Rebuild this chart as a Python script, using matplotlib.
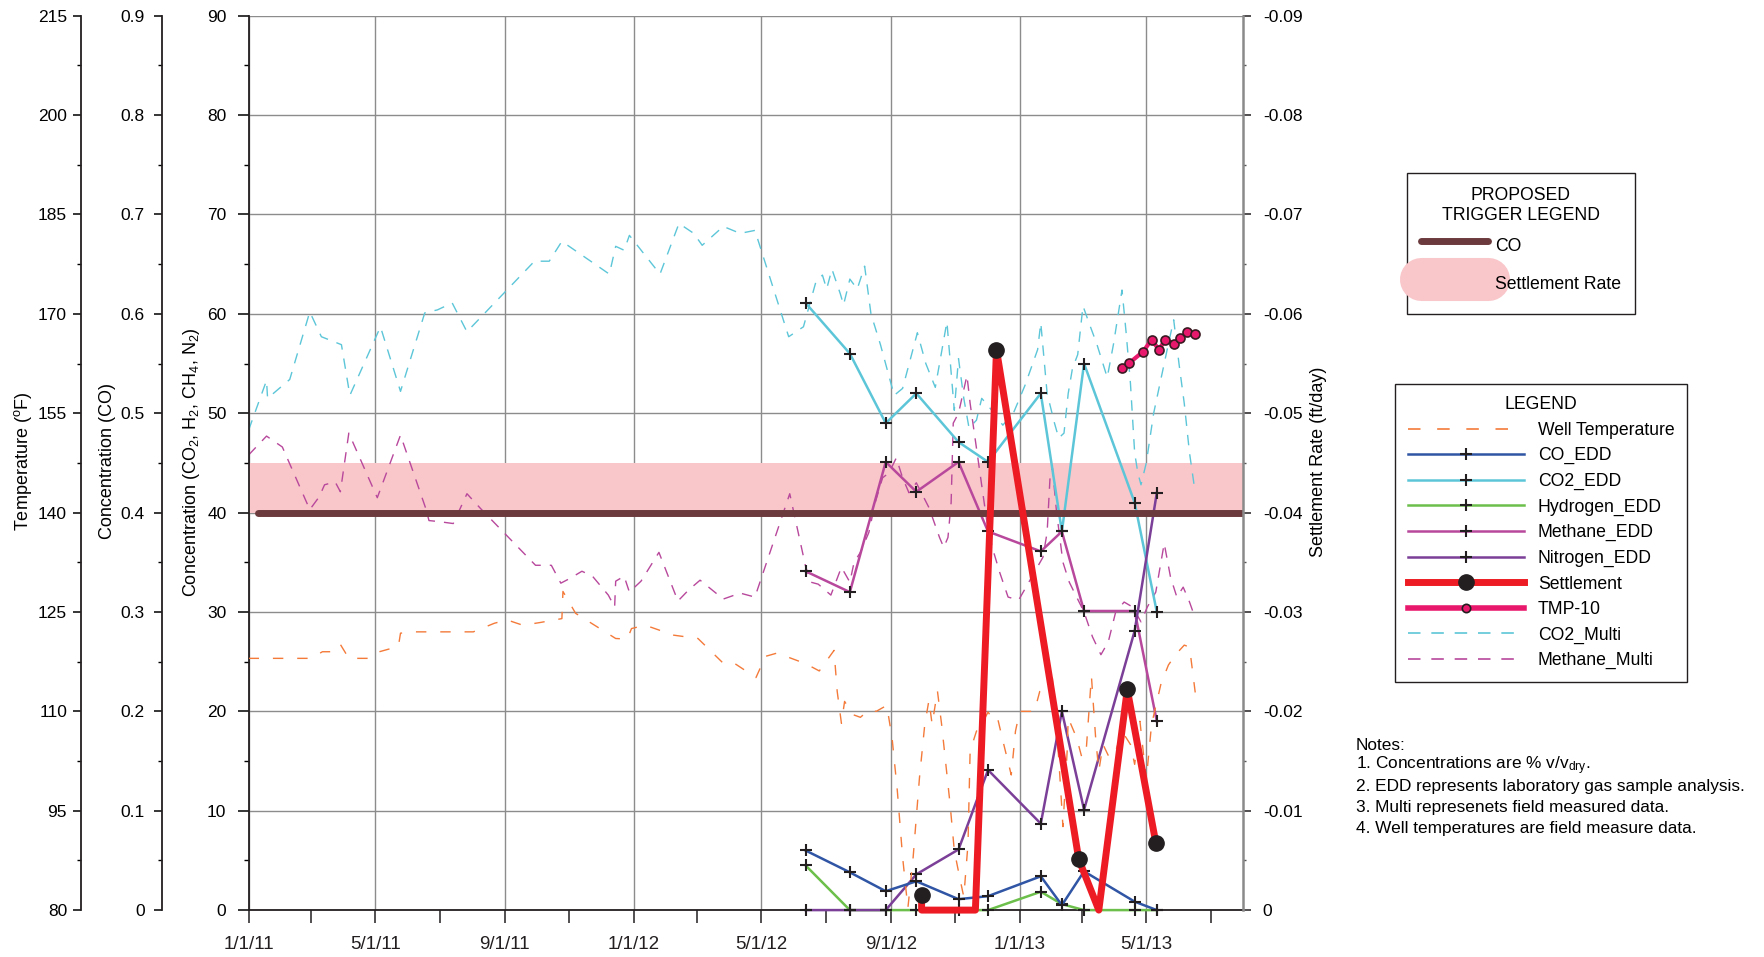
import numpy as np
import pandas as pd
import matplotlib
matplotlib.use('Agg')
import matplotlib.pyplot as plt
import matplotlib.dates as mdates
import matplotlib.transforms as mtransforms
from matplotlib.lines import Line2D
from matplotlib.patches import Rectangle
from matplotlib.ticker import MultipleLocator, FixedLocator, FuncFormatter
from matplotlib import font_manager

names = {f.name for f in font_manager.fontManager.ttflist}
narrow = 'Liberation Sans Narrow' if 'Liberation Sans Narrow' in names else 'Liberation Sans'
plt.rcParams['font.family'] = ['Liberation Sans', 'DejaVu Sans']
plt.rcParams['mathtext.fontset'] = 'custom'
plt.rcParams['mathtext.rm'] = 'Liberation Sans'
plt.rcParams['mathtext.it'] = 'Liberation Sans:italic'

# ---- lab samples (EDD) ----
edd_dates = ['2012-06-12', '2012-07-24', '2012-08-27', '2012-09-25', '2012-11-04', '2012-12-02',
             '2013-01-21', '2013-02-10', '2013-03-03', '2013-04-20', '2013-05-11']
co_edd = [0.060, 0.038, 0.019, 0.029, 0.011, 0.014, 0.034, 0.005, 0.039, 0.0085, 0.0]
co2_edd = [61.1, 56.0, 49.0, 52.0, 47.1, 45.1, 52.0, 38.1, 55.0, 41.0, 30.0]
hydrogen_edd = [4.5, 0, 0, 0, 0, 0, 1.85, 0.6, 0, 0, 0]
methane_edd = [34.1, 32.0, 45.1, 42.1, 45.1, 38.1, 36.1, 38.1, 30.1, 30.1, 19.0]
nitrogen_edd = [0, 0, 0, 3.6, 6.1, 14.1, 8.7, 20.0, 10.1, 28.1, 42.0]

# ---- settlement rate (ft/day) ----
settle_dates = ['2012-09-30', '2012-09-30', '2012-11-20', '2012-12-10', '2013-02-26',
                '2013-03-17', '2013-04-13', '2013-05-10']
settle_rate = [-0.0015, 0.0, 0.0, -0.0564, -0.0051, 0.0, -0.0222, -0.0068]
settle_marked = [0, 3, 4, 6, 7]

# ---- TMP-10 (deg F) ----
tmp_dates = ['2013-04-08', '2013-04-15', '2013-04-28', '2013-05-06', '2013-05-13',
             '2013-05-19', '2013-05-27', '2013-06-02', '2013-06-09', '2013-06-16']
tmp10 = [161.8, 162.6, 164.3, 166.1, 164.6, 166.1, 165.5, 166.3, 167.2, 167.0]

# ---- field multi-gas meter ----
co2_multi_dates = ['2011-01-01', '2011-01-18', '2011-01-19', '2011-02-09', '2011-02-28', '2011-03-11',
                   '2011-03-30', '2011-04-07', '2011-05-06', '2011-05-25', '2011-06-17', '2011-06-29',
                   '2011-07-13', '2011-07-27', '2011-09-29', '2011-10-13', '2011-10-25', '2011-12-09',
                   '2011-12-15', '2011-12-23', '2011-12-28', '2012-01-26', '2012-02-13', '2012-02-27',
                   '2012-03-06', '2012-03-26', '2012-04-11', '2012-04-25', '2012-05-27', '2012-06-10',
                   '2012-06-22', '2012-06-28', '2012-07-02', '2012-07-07', '2012-07-15', '2012-07-18',
                   '2012-07-24', '2012-07-31', '2012-08-07', '2012-08-13', '2012-08-22', '2012-09-04',
                   '2012-09-12', '2012-09-26', '2012-10-04', '2012-10-13', '2012-10-24', '2012-10-31',
                   '2012-11-04', '2012-11-09', '2012-11-14', '2012-11-21', '2012-11-26', '2012-12-04',
                   '2012-12-16', '2012-12-26', '2013-01-06', '2013-01-18', '2013-01-21', '2013-01-27',
                   '2013-02-03', '2013-02-07', '2013-02-12', '2013-02-16', '2013-02-20', '2013-02-25',
                   '2013-03-02', '2013-03-08', '2013-03-15', '2013-03-25', '2013-03-31', '2013-04-08',
                   '2013-04-12', '2013-04-16', '2013-04-20', '2013-04-23', '2013-04-26', '2013-05-01',
                   '2013-05-08', '2013-05-16', '2013-05-22', '2013-05-27', '2013-06-01', '2013-06-06',
                   '2013-06-11', '2013-06-16']
co2_multi = [48.3, 53.3, 51.5, 53.4, 60.2, 57.7, 56.9, 51.8, 58.7, 52.2, 60.1, 60.4,
             61.1, 58.2, 65.3, 65.3, 67.3, 64.0, 66.8, 66.4, 67.9, 64.0, 69.1, 68.1,
             66.9, 68.8, 68.1, 68.4, 57.7, 58.7, 63.3, 63.9, 62.5, 64.5, 62.0, 60.9,
             63.5, 62.5, 64.8, 60.0, 56.9, 51.8, 52.5, 58.1, 55.0, 52.6, 59.2, 50.3,
             55.5, 51.5, 48.5, 49.3, 51.5, 50.5, 48.8, 50.0, 52.8, 56.4, 59.1, 52.0,
             49.0, 47.5, 48.0, 52.0, 54.5, 55.9, 60.8, 59.0, 57.0, 53.6, 57.0, 62.4,
             58.0, 53.0, 46.0, 44.0, 42.8, 45.0, 50.0, 54.0, 57.0, 59.4, 55.0, 51.0,
             46.0, 42.3]

methane_multi_dates = ['2011-01-01', '2011-01-18', '2011-02-02', '2011-02-28', '2011-03-09', '2011-03-14',
                       '2011-03-24', '2011-03-29', '2011-04-06', '2011-05-03', '2011-05-25', '2011-06-18',
                       '2011-06-21', '2011-06-30', '2011-07-14', '2011-07-27', '2011-08-09', '2011-09-30',
                       '2011-10-15', '2011-10-24', '2011-11-02', '2011-11-13', '2011-11-23', '2011-12-08',
                       '2011-12-14', '2011-12-15', '2011-12-23', '2011-12-28', '2012-01-08', '2012-01-25',
                       '2012-02-12', '2012-02-22', '2012-03-04', '2012-03-26', '2012-04-11', '2012-04-25',
                       '2012-05-28', '2012-06-12', '2012-06-17', '2012-06-24', '2012-07-06', '2012-07-16',
                       '2012-07-24', '2012-07-28', '2012-08-03', '2012-08-11', '2012-08-17', '2012-08-24',
                       '2012-08-30', '2012-09-06', '2012-09-12', '2012-09-18', '2012-09-25', '2012-10-07',
                       '2012-10-17', '2012-10-21', '2012-10-25', '2012-10-28', '2012-10-30', '2012-11-04',
                       '2012-11-12', '2012-11-15', '2012-11-19', '2012-11-23', '2012-11-27', '2012-12-01',
                       '2012-12-06', '2012-12-13', '2012-12-21', '2012-12-31', '2013-01-07', '2013-01-15',
                       '2013-01-23', '2013-01-27', '2013-01-30', '2013-02-01', '2013-02-05', '2013-02-11',
                       '2013-02-17', '2013-02-24', '2013-03-03', '2013-03-11', '2013-03-19', '2013-03-26',
                       '2013-04-02', '2013-04-10', '2013-04-18', '2013-04-26', '2013-05-02', '2013-05-10',
                       '2013-05-18', '2013-05-24', '2013-05-30', '2013-06-05', '2013-06-11', '2013-06-16']
methane_multi = [45.8, 47.7, 46.6, 40.3, 41.6, 42.8, 43.1, 42.1, 48.0, 41.5, 47.8, 40.4,
                 39.2, 39.1, 38.9, 41.9, 40.4, 34.7, 34.7, 32.9, 33.4, 34.1, 33.6, 31.7,
                 30.5, 33.1, 33.6, 32.0, 33.1, 36.0, 31.1, 32.2, 33.2, 31.3, 31.9, 31.5,
                 41.9, 34.6, 33.0, 32.8, 31.7, 34.5, 33.0, 35.0, 36.0, 38.0, 41.0, 43.5,
                 44.0, 45.5, 43.5, 42.0, 43.0, 40.5, 37.5, 36.5, 37.5, 41.0, 49.0, 50.0,
                 53.8, 51.0, 48.0, 45.0, 42.0, 39.0, 36.5, 34.0, 31.5, 31.2, 32.5, 34.0,
                 35.5, 38.0, 44.0, 44.5, 40.0, 35.0, 33.0, 31.5, 30.0, 27.5, 25.7, 27.0,
                 30.0, 31.0, 30.5, 29.0, 30.5, 32.0, 36.9, 33.5, 31.5, 32.5, 31.0, 29.5]

# ---- well temperature (deg F) ----
well_dates = ['2011-01-01', '2011-03-01', '2011-03-12', '2011-03-23', '2011-03-29', '2011-04-06',
              '2011-04-26', '2011-05-05', '2011-05-23', '2011-05-25', '2011-06-05', '2011-08-02',
              '2011-08-22', '2011-09-03', '2011-09-18', '2011-10-04', '2011-10-25', '2011-10-26',
              '2011-11-07', '2011-12-15', '2011-12-26', '2011-12-30', '2012-01-12', '2012-02-08',
              '2012-03-02', '2012-03-27', '2012-04-07', '2012-04-26', '2012-05-05', '2012-05-16',
              '2012-06-12', '2012-06-25', '2012-07-09', '2012-07-12', '2012-07-16', '2012-07-19',
              '2012-07-27', '2012-08-03', '2012-08-11', '2012-08-18', '2012-08-28', '2012-09-02',
              '2012-09-07', '2012-09-12', '2012-09-17', '2012-09-22', '2012-09-28', '2012-10-03',
              '2012-10-07', '2012-10-10', '2012-10-15', '2012-10-19', '2012-10-23', '2012-10-27',
              '2012-10-31', '2012-11-05', '2012-11-09', '2012-11-13', '2012-11-15', '2012-11-21',
              '2012-11-26', '2012-12-02', '2012-12-07', '2012-12-11', '2012-12-16', '2012-12-24',
              '2012-12-28', '2013-01-01', '2013-01-15', '2013-01-20', '2013-02-01', '2013-02-03',
              '2013-02-07', '2013-02-11', '2013-02-15', '2013-02-16', '2013-02-24', '2013-03-01',
              '2013-03-05', '2013-03-10', '2013-03-14', '2013-03-17', '2013-03-21', '2013-03-27',
              '2013-04-02', '2013-04-08', '2013-04-16', '2013-04-20', '2013-04-25', '2013-05-01',
              '2013-05-06', '2013-05-15', '2013-05-22', '2013-05-29', '2013-06-06', '2013-06-11',
              '2013-06-17']
well_temp = [118.0, 118.0, 119.0, 119.0, 120.1, 118.0, 118.0, 119.0, 119.8, 121.8, 122.0, 122.0,
             123.3, 123.8, 123.0, 123.4, 124.0, 128.1, 124.8, 121.0, 120.9, 122.5, 123.0, 121.5,
             121.0, 117.1, 117.1, 115.1, 118.3, 118.8, 117.2, 116.1, 119.2, 113.0, 108.2, 111.5,
             109.5, 109.1, 110.2, 110.0, 110.9, 106.0, 98.0, 88.0, 80.3, 88.0, 100.0, 108.0,
             111.7, 108.0, 113.1, 108.0, 102.0, 96.0, 89.0, 85.0, 82.0, 90.0, 104.0, 107.0,
             108.0, 109.9, 108.7, 109.0, 105.6, 100.4, 107.0, 110.0, 110.0, 113.0, 115.0, 110.0,
             103.0, 92.6, 104.0, 109.0, 106.0, 103.0, 104.0, 115.3, 106.0, 101.0, 105.0, 103.0,
             104.0, 107.0, 105.0, 102.0, 108.5, 99.7, 108.0, 114.2, 117.0, 118.6, 120.0, 119.7,
             112.1]

# ---- proposed triggers ----
co_trigger = 0.4
co_trigger_start = '2011-01-10'
settle_band = (-0.045, -0.040)

x_start, x_end = '2011-01-01', '2013-08-01'

notes = ['Notes:',
         '1. Concentrations are % v/v$_{\\rm dry}$.',
         '2. EDD represents laboratory gas sample analysis.',
         '3. Multi represenets field measured data.',
         '4. Well temperatures are field measure data.']

# styles
c_temp = '#f47a3a'
c_co = '#2f55a4'
c_co2 = '#5cc6d8'
c_h2 = '#6cbf4a'
c_ch4 = '#b8489c'
c_n2 = '#7b3f98'
c_set = '#ed1c24'
c_tmp = '#e8186c'
c_trig = '#6b3a3c'
c_band = '#f9c6ca'

edd_kw = dict(lw=1.8, marker='+', ms=9, mec='#231f20', mew=1.5)
multi_kw = dict(lw=1.0, dashes=(7.5, 6.5))
leg_fs = 12.7

def d(lst):
    return pd.to_datetime(lst)

fig = plt.figure(figsize=(17.64, 9.57), dpi=100)
ax = fig.add_axes([0.14093, 0.04901, 0.5639, 0.93453])
ax_t = ax.twinx()
ax_co = ax.twinx()
ax_s = ax.twinx()

ax.set_xlim(pd.Timestamp(x_start), pd.Timestamp(x_end))
ax.set_ylim(0, 90)
ax_t.set_ylim(80, 215)
ax_co.set_ylim(0, 0.9)
ax_s.set_ylim(0, -0.09)

# settlement-rate trigger band (drawn in the base axes so it sits under everything)
band_tr = mtransforms.blended_transform_factory(ax.transAxes, ax_s.transData)
ax.add_patch(Rectangle((0, settle_band[0]), 1, settle_band[1] - settle_band[0],
                       transform=band_tr, facecolor=c_band, edgecolor='none', zorder=1))

ax.grid(True, which='major', color='#8c8c8c', lw=1.0)
ax.set_axisbelow(True)

# field data
ax.plot(d(co2_multi_dates), co2_multi, color=c_co2, zorder=2, **multi_kw)
ax.plot(d(methane_multi_dates), methane_multi, color=c_ch4, zorder=2, **multi_kw)

# lab data
ax.plot(d(edd_dates), co2_edd, color=c_co2, zorder=3, clip_on=False, **edd_kw)
ax.plot(d(edd_dates), hydrogen_edd, color=c_h2, zorder=3, clip_on=False, **edd_kw)
ax.plot(d(edd_dates), methane_edd, color=c_ch4, zorder=3, clip_on=False, **edd_kw)
ax.plot(d(edd_dates), nitrogen_edd, color=c_n2, zorder=3, clip_on=False, **edd_kw)
ax_co.plot(d(edd_dates), co_edd, color=c_co, zorder=3, clip_on=False, **edd_kw)

ax_t.plot(d(well_dates), well_temp, color=c_temp, lw=1.0, dashes=(7.5, 10))
ax_t.plot(d(tmp_dates), tmp10, color=c_tmp, lw=3.0, marker='o', ms=6.5,
          mfc=c_tmp, mec='#3a1a22', mew=1.2, zorder=4)

hl = ax_co.hlines(co_trigger, pd.Timestamp(co_trigger_start), pd.Timestamp(x_end),
                  colors=c_trig, lw=5, zorder=3)
hl.set_capstyle('round')

ax_s.plot(d(settle_dates), settle_rate, color=c_set, lw=5, marker='o', ms=11,
          mfc='#231f20', mec='#231f20', markevery=settle_marked, zorder=5, clip_on=False)

# spines
for s in ['top', 'right']:
    ax.spines[s].set_visible(False)
for s in ['left', 'bottom']:
    ax.spines[s].set_color('#231f20')
    ax.spines[s].set_linewidth(1.3)

for a, off in [(ax_t, -0.1685), (ax_co, -0.0874)]:
    a.spines['left'].set_position(('axes', off))
    a.spines['left'].set_visible(True)
    a.spines['left'].set_color('#231f20')
    a.spines['left'].set_linewidth(1.3)
    for s in ['top', 'bottom', 'right']:
        a.spines[s].set_visible(False)
    a.yaxis.set_ticks_position('left')
    a.yaxis.set_label_position('left')

for s in ['top', 'bottom', 'left']:
    ax_s.spines[s].set_visible(False)
ax_s.spines['right'].set_color('#8a8a8a')
ax_s.spines['right'].set_linewidth(1.8)

# ticks
ax.xaxis.set_major_locator(mdates.MonthLocator(bymonth=[1, 5, 9]))
ax.xaxis.set_minor_locator(mdates.MonthLocator(bymonth=[3, 7, 11]))
ax.xaxis.set_major_formatter(FuncFormatter(
    lambda v, p: '{}/{}/{:02d}'.format(mdates.num2date(v).month, mdates.num2date(v).day,
                                       mdates.num2date(v).year % 100)))
ax.tick_params(axis='x', which='both', direction='out', length=9, width=1.1,
               pad=10, labelsize=13.5, colors='#231f20')
for lab in ax.get_xticklabels():
    lab.set_family([narrow, 'Liberation Sans'])

ax.yaxis.set_major_locator(MultipleLocator(10))
ax.yaxis.set_minor_locator(MultipleLocator(5))
ax.tick_params(axis='y', which='major', length=8, width=1.1, pad=8, labelsize=12.5)
ax.tick_params(axis='y', which='minor', length=3.5, width=1.0)

ax_co.yaxis.set_major_locator(MultipleLocator(0.1))
ax_co.yaxis.set_minor_locator(MultipleLocator(0.05))
ax_co.yaxis.set_major_formatter(FuncFormatter(lambda v, p: '0' if abs(v) < 1e-9 else '{:.1f}'.format(v)))
ax_co.tick_params(axis='y', which='major', length=6, width=1.1, pad=6, labelsize=12.5)
ax_co.tick_params(axis='y', which='minor', length=3, width=1.0)

ax_t.yaxis.set_major_locator(FixedLocator(np.arange(80, 216, 15)))
ax_t.yaxis.set_minor_locator(FixedLocator(np.arange(87.5, 215, 15)))
ax_t.tick_params(axis='y', which='major', length=6, width=1.1, pad=4, labelsize=12.5)
ax_t.tick_params(axis='y', which='minor', length=3, width=1.0)

ax_s.yaxis.set_major_locator(MultipleLocator(0.01))
ax_s.yaxis.set_minor_locator(MultipleLocator(0.005))
ax_s.yaxis.set_major_formatter(FuncFormatter(lambda v, p: '0' if abs(v) < 1e-9 else '{:.2f}'.format(v)))
ax_s.tick_params(axis='y', which='major', length=6, width=1.1, pad=8, labelsize=12.5, color='#231f20')
ax_s.tick_params(axis='y', which='minor', length=2.5, width=1.0, color='#555555')

# axis titles
lab_kw = dict(rotation=90, ha='center', va='center', fontsize=13, family=[narrow, 'Liberation Sans'])
fig.text(0.0128, 0.518, 'Temperature ($^{\\rm o}$F)', **lab_kw)
fig.text(0.0612, 0.518, 'Concentration (CO)', **lab_kw)
fig.text(0.1083, 0.517, 'Concentration (CO$_2$, H$_2$, CH$_4$, N$_2$)', **lab_kw)
fig.text(0.7475, 0.517, 'Settlement Rate (ft/day)', **lab_kw)

# proposed trigger legend
trig_handles = [Line2D([], [], color=c_trig, lw=5, solid_capstyle='round'),
                Line2D([], [], color=c_band, lw=31, solid_capstyle='round')]
leg1 = fig.legend(trig_handles, ['CO', 'Settlement Rate'], loc='upper left',
                  bbox_to_anchor=(1407 / 1764, 1 - 173 / 957), borderaxespad=0,
                  title='PROPOSED\nTRIGGER LEGEND', fontsize=leg_fs, title_fontsize=leg_fs,
                  handlelength=3.8, handleheight=2.4, handletextpad=0.38, labelspacing=0.35,
                  borderpad=0.8, fancybox=False, edgecolor='#231f20', framealpha=1)
leg1.get_frame().set_linewidth(1.0)
leg1.get_title().set_multialignment('center')

# main legend
leg_handles = [
    Line2D([], [], color=c_temp, lw=1.2, dashes=(7.5, 10)),
    Line2D([], [], color=c_co, **edd_kw),
    Line2D([], [], color=c_co2, **edd_kw),
    Line2D([], [], color=c_h2, **edd_kw),
    Line2D([], [], color=c_ch4, **edd_kw),
    Line2D([], [], color=c_n2, **edd_kw),
    Line2D([], [], color=c_set, lw=5, marker='o', ms=11, mfc='#231f20', mec='#231f20'),
    Line2D([], [], color=c_tmp, lw=4, marker='o', ms=6, mfc=c_tmp, mec='#231f20', mew=1.2),
    Line2D([], [], color=c_co2, lw=1.2, dashes=(7.5, 6.5)),
    Line2D([], [], color=c_ch4, lw=1.2, dashes=(7.5, 6.5)),
]
leg_labels = ['Well Temperature', 'CO_EDD', 'CO2_EDD', 'Hydrogen_EDD', 'Methane_EDD',
              'Nitrogen_EDD', 'Settlement', 'TMP-10', 'CO2_Multi', 'Methane_Multi']
leg2 = fig.legend(leg_handles, leg_labels, loc='upper left',
                  bbox_to_anchor=(1395 / 1764, 1 - 383.6 / 957), borderaxespad=0,
                  title='LEGEND', fontsize=leg_fs, title_fontsize=leg_fs,
                  handlelength=6.6, handletextpad=0.77, labelspacing=0.48, borderpad=0.72,
                  fancybox=False, edgecolor='#231f20', framealpha=1)
leg2.get_frame().set_linewidth(1.0)

# notes
for i, line in enumerate(notes):
    fig.text(1356 / 1764, 1 - (745 + i * 20.8) / 957, line, fontsize=12.4, va='center', ha='left')

fig.savefig('out.png', dpi=100)
